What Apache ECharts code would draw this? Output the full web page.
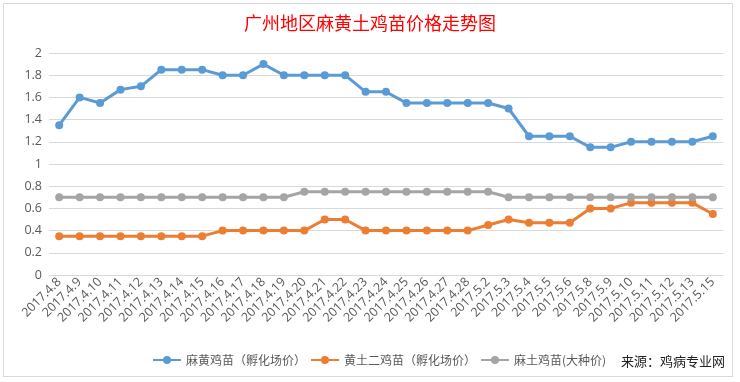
<!DOCTYPE html>
<html>
<head>
<meta charset="utf-8">
<script src="https://cdn.jsdelivr.net/npm/echarts@6/dist/echarts.min.js"></script>
<style>
html,body{margin:0;padding:0;background:#fff;}
#frame{position:absolute;left:3px;top:3px;width:730px;height:374px;border:1px solid #d9d9d9;box-sizing:border-box;}
#chart{position:absolute;left:0;top:0;width:740px;height:382px;}
</style>
</head>
<body>
<div id="frame"></div>
<div id="chart"></div>
<script>
const categories = ['2017.4.8','2017.4.9','2017.4.10','2017.4.11','2017.4.12','2017.4.13','2017.4.14','2017.4.15','2017.4.16','2017.4.17','2017.4.18','2017.4.19','2017.4.20','2017.4.21','2017.4.22','2017.4.23','2017.4.24','2017.4.25','2017.4.26','2017.4.27','2017.4.28','2017.5.2','2017.5.3','2017.5.4','2017.5.5','2017.5.6','2017.5.8','2017.5.9','2017.5.10','2017.5.11','2017.5.12','2017.5.13','2017.5.15'];
const mahuang = [1.35,1.6,1.55,1.67,1.7,1.85,1.85,1.85,1.8,1.8,1.9,1.8,1.8,1.8,1.8,1.65,1.65,1.55,1.55,1.55,1.55,1.55,1.5,1.25,1.25,1.25,1.15,1.15,1.2,1.2,1.2,1.2,1.25];
const huangtu = [0.35,0.35,0.35,0.35,0.35,0.35,0.35,0.35,0.4,0.4,0.4,0.4,0.4,0.5,0.5,0.4,0.4,0.4,0.4,0.4,0.4,0.45,0.5,0.47,0.47,0.47,0.6,0.6,0.65,0.65,0.65,0.65,0.55];
const matu = [0.7,0.7,0.7,0.7,0.7,0.7,0.7,0.7,0.7,0.7,0.7,0.7,0.75,0.75,0.75,0.75,0.75,0.75,0.75,0.75,0.75,0.75,0.7,0.7,0.7,0.7,0.7,0.7,0.7,0.7,0.7,0.7,0.7];
const seriesNames = ['麻黄鸡苗（孵化场价）','黄土二鸡苗（孵化场价）','麻土鸡苗(大种价)'];
const colors = ['#5B9BD5','#ED7D31','#A5A5A5'];
const titleText = '广州地区麻黄土鸡苗价格走势图';
const sourceText = '来源：鸡病专业网';

const font = '"Noto Sans CJK SC","Noto Sans",sans-serif';
const chart = echarts.init(document.getElementById('chart'));
const mk = (name, data, color) => ({
  name, type: 'line', data, color,
  symbol: 'circle', symbolSize: 8,
  lineStyle: {width: 3, color},
  itemStyle: {color},
  animation: false
});
chart.setOption({
  animation: false,
  title: [
    {text: titleText, left: 'center', top: 9,
     textStyle: {color: '#FF0000', fontSize: 18, fontWeight: 'normal', fontFamily: font}},
    {text: sourceText, left: 616, top: 350,
     textStyle: {color: '#222', fontSize: 13, fontWeight: 'normal', fontFamily: font}}
  ],
  legend: {
    left: 147, top: 349, itemWidth: 28, itemHeight: 10, itemGap: 4,
    textStyle: {color: '#595959', fontSize: 12, fontFamily: font},
    data: seriesNames
  },
  grid: {left: 49, right: 17, top: 53, bottom: 107, containLabel: false},
  xAxis: {
    type: 'category', data: categories, boundaryGap: true,
    axisLine: {lineStyle: {color: '#d9d9d9'}},
    axisTick: {show: false},
    axisLabel: {rotate: 45, interval: 0, color: '#595959', fontSize: 12.5, margin: 5, fontFamily: '"Open Sans",sans-serif'}
  },
  yAxis: {
    type: 'value', min: 0, max: 2, interval: 0.2,
    axisLine: {show: false}, axisTick: {show: false},
    axisLabel: {color: '#595959', fontSize: 12.5, margin: 7, fontFamily: '"Open Sans",sans-serif',
      formatter: v => String(Math.round(v*10)/10)},
    splitLine: {lineStyle: {color: '#d9d9d9'}}
  },
  series: [
    mk(seriesNames[0], mahuang, colors[0]),
    mk(seriesNames[1], huangtu, colors[1]),
    mk(seriesNames[2], matu, colors[2])
  ]
});
</script>
</body>
</html>
